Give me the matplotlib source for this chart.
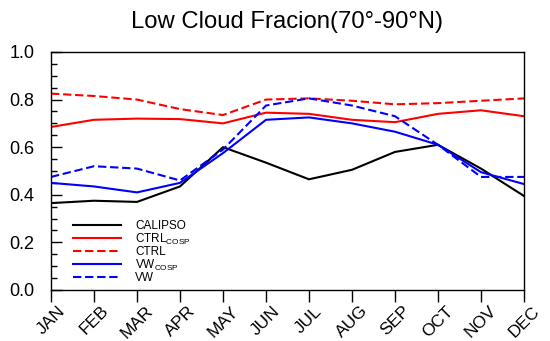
import matplotlib.pyplot as plt
from matplotlib.ticker import MultipleLocator
from matplotlib.transforms import ScaledTranslation

plt.rcParams['font.family'] = ['Liberation Sans', 'DejaVu Sans']

months = ["JAN", "FEB", "MAR", "APR", "MAY", "JUN", "JUL", "AUG", "SEP", "OCT", "NOV", "DEC"]

calipso   = [0.365, 0.375, 0.37, 0.435, 0.60, 0.535, 0.465, 0.505, 0.58, 0.61, 0.51, 0.395]
ctrl_cosp = [0.685, 0.715, 0.72, 0.718, 0.70, 0.745, 0.74, 0.715, 0.705, 0.74, 0.755, 0.73]
ctrl      = [0.825, 0.815, 0.80, 0.76, 0.735, 0.80, 0.805, 0.795, 0.78, 0.785, 0.795, 0.805]
vw_cosp   = [0.45, 0.435, 0.41, 0.45, 0.575, 0.715, 0.725, 0.70, 0.665, 0.61, 0.495, 0.445]
vw        = [0.475, 0.52, 0.51, 0.46, 0.59, 0.775, 0.805, 0.775, 0.73, 0.61, 0.475, 0.475]

x = list(range(len(months)))

fig = plt.figure(figsize=(5.5, 3.41), dpi=100)
ax = fig.add_axes([0.0927, 0.1496, 0.86, 0.698])

dash = (0, (4, 1.8))
ax.plot(x, calipso, color="black", lw=1.5, label="CALIPSO")
ax.plot(x, ctrl_cosp, color="red", lw=1.5, label=r"CTRL$_{\mathregular{COSP}}$")
ax.plot(x, ctrl, color="red", lw=1.5, ls=dash, label="CTRL")
ax.plot(x, vw_cosp, color="blue", lw=1.5, label=r"VW$_{\mathregular{COSP}}$")
ax.plot(x, vw, color="blue", lw=1.5, ls=dash, label="VW")

ax.set_xlim(0, 11)
ax.set_ylim(0, 1.0)
ax.set_xticks(x)
ax.set_xticklabels(months, rotation=45, ha="center", va="top", fontsize=12.5)
shift = ScaledTranslation(5.5 / 100, 0, fig.dpi_scale_trans)
for lab in ax.get_xticklabels():
    lab.set_transform(lab.get_transform() + shift)
ax.set_yticks([0, 0.2, 0.4, 0.6, 0.8, 1.0])
ax.set_yticklabels(["0.0", "0.2", "0.4", "0.6", "0.8", "1.0"], fontsize=13)
ax.yaxis.set_minor_locator(MultipleLocator(0.05))
ax.tick_params(axis="y", which="major", direction="in", length=8, width=1, pad=12)
ax.tick_params(axis="y", which="minor", direction="in", length=4, width=1)
ax.tick_params(axis="x", which="major", direction="out", length=8.6, width=1, pad=1)
for s in ax.spines.values():
    s.set_linewidth(1)

ax.set_title("Low Cloud Fracion(70°-90°N)", fontsize=17.2, pad=17)

ax.legend(loc="lower left", bbox_to_anchor=(0.0465, 0.025), frameon=False,
          fontsize=8.5, handlelength=4.1, labelspacing=-0.05, handletextpad=1.15,
          borderaxespad=0, borderpad=0)

fig.savefig("out.png", dpi=100)
